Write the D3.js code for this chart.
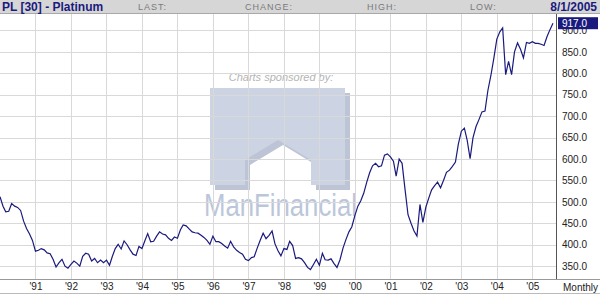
<!DOCTYPE html>
<html>
<head>
<meta charset="utf-8">
<script src="https://cdn.jsdelivr.net/npm/d3@7"></script>
<style>
  body { margin: 0; background: #fff; }
  svg { display: block; font-family: "Liberation Sans", Arial, sans-serif; }
</style>
</head>
<body>
<script>
// monthly closes, Jan 1990 .. Aug 2005
const startYear = 1990;
const prices = [
  512, 490, 477, 478, 496, 490, 487, 480, 455, 438, 425, 410,
  385, 387, 391, 388, 381, 379, 366, 348, 358, 366, 350, 345,
  354, 362, 357, 350, 373, 380, 378, 362, 368, 358, 364, 358,
  364, 352, 372, 391, 401, 390, 409, 400, 388, 378, 375, 396,
  391, 410, 426, 407, 408, 420, 430, 425, 423, 415, 410, 418,
  415, 435, 446, 444, 437, 430, 428, 427, 422, 417, 410, 401,
  420, 407, 407, 403, 397, 392, 408, 395, 387, 382, 378, 366,
  363, 370, 372, 392, 410, 427, 414, 422, 432, 402, 386, 374,
  391, 389, 408, 398, 368, 370, 367, 358, 347, 342, 354, 366,
  352, 380, 365, 364, 367, 356, 347, 365, 392, 412, 430, 442,
  468, 490, 502, 520, 545, 568, 584, 590, 582, 584, 609, 612,
  605, 595, 560, 600, 590, 528, 470, 450, 432, 420, 494, 452,
  488, 510, 528, 538, 546, 533, 550, 569, 574, 583, 593, 635,
  665, 672, 645, 601, 650, 676, 692, 710, 712, 760, 795, 835,
  880, 897, 906, 797, 828, 797, 850, 871, 856, 836, 872, 870,
  874, 870, 870, 868, 865, 886, 902, 917
];
const yearTicks = [1991, 1992, 1993, 1994, 1995, 1996, 1997, 1998, 1999, 2000, 2001, 2002, 2003, 2004, 2005];
const priceTicks = [350, 400, 450, 500, 550, 600, 650, 700, 750, 800, 850, 900];
const lastPrice = 917.0;
const title = 'PL [30] - Platinum';
const headerLabels = ['LAST:', 'CHANGE:', 'HIGH:', 'LOW:'];
const lastDate = '8/1/2005';

const width = 600;
const height = 295;
const plot = {left: 0, right: 556, top: 14, bottom: 279};
const navy = '#1a1a7e';

const data = prices.map((p, i) => ({date: new Date(startYear, i, 1), price: p}));

const svg = d3.select('body')
  .append('svg')
  .attr('width', width)
  .attr('height', height);

const x = d3.scaleTime()
  .domain([new Date(1990, 0, 1), new Date(2005, 8, 1)])
  .range([plot.left, plot.right]);

const y = d3.scaleLinear()
  .domain([320, 938.5])
  .range([plot.bottom, plot.top]);

// watermark
const wm = svg.append('g');
wm.append('text')
  .attr('x', 281).attr('y', 81)
  .attr('text-anchor', 'middle')
  .attr('font-size', 11)
  .attr('font-style', 'italic')
  .attr('fill', '#b4b4b4')
  .text('Charts sponsored by:');

const mShape = [[210, 88], [345, 88], [345, 185], [311, 185], [311, 160], [278, 140], [245, 160], [245, 185], [210, 185]];
wm.append('polygon')
  .attr('points', mShape.map(p => [p[0] + 5, p[1] + 5].join(',')).join(' '))
  .attr('fill', '#bcc4d6');
wm.append('polygon')
  .attr('points', mShape.map(p => p.join(',')).join(' '))
  .attr('fill', '#ccd3e2');

wm.append('text')
  .attr('x', 204).attr('y', 216)
  .attr('font-size', 31)
  .attr('textLength', 153)
  .attr('lengthAdjust', 'spacingAndGlyphs')
  .attr('fill', '#bcc6da')
  .text('ManFinancial');

// grid
svg.append('g')
  .selectAll('line')
  .data(yearTicks)
  .join('line')
  .attr('x1', d => Math.round(x(new Date(d, 0, 1))) + 0.5)
  .attr('x2', d => Math.round(x(new Date(d, 0, 1))) + 0.5)
  .attr('y1', plot.top)
  .attr('y2', plot.bottom)
  .attr('stroke', '#d9d9d9');

svg.append('g')
  .selectAll('line')
  .data(priceTicks)
  .join('line')
  .attr('x1', plot.left)
  .attr('x2', plot.right)
  .attr('y1', d => Math.round(y(d)) + 0.5)
  .attr('y2', d => Math.round(y(d)) + 0.5)
  .attr('stroke', '#d9d9d9');

// price line
const line = d3.line()
  .x(d => x(d.date))
  .y(d => y(d.price));

svg.append('path')
  .datum(data)
  .attr('d', line)
  .attr('fill', 'none')
  .attr('stroke', navy)
  .attr('stroke-width', 1.2);

// frame
svg.append('line')
  .attr('x1', plot.right + 0.5).attr('x2', plot.right + 0.5)
  .attr('y1', plot.top).attr('y2', plot.bottom)
  .attr('stroke', '#555');
svg.append('line')
  .attr('x1', 0).attr('x2', width)
  .attr('y1', plot.bottom + 0.5).attr('y2', plot.bottom + 0.5)
  .attr('stroke', '#999');
svg.append('line')
  .attr('x1', 0).attr('x2', width)
  .attr('y1', 293.5).attr('y2', 293.5)
  .attr('stroke', '#bbb');

// right axis
const yAxis = d3.axisRight(y)
  .tickValues(priceTicks)
  .tickSize(0)
  .tickPadding(6)
  .tickFormat(d => d.toFixed(1));

svg.append('g')
  .attr('transform', `translate(${plot.right}, 0)`)
  .call(yAxis)
  .call(g => g.select('.domain').remove())
  .call(g => g.selectAll('text')
    .attr('font-size', 10)
    .attr('font-family', '"Liberation Sans", Arial, sans-serif')
    .attr('fill', '#222'));

// last price box
svg.append('rect')
  .attr('x', plot.right + 2).attr('y', y(lastPrice) - 6)
  .attr('width', 40).attr('height', 12)
  .attr('fill', navy);
svg.append('text')
  .attr('x', plot.right + 6).attr('y', y(lastPrice) + 4)
  .attr('font-size', 10)
  .attr('fill', '#fff')
  .text(lastPrice.toFixed(1));

// bottom axis
const xAxis = d3.axisBottom(x)
  .tickValues(yearTicks.map(d => new Date(d, 0, 1)))
  .tickSize(0)
  .tickPadding(4)
  .tickFormat(d => "'" + d3.timeFormat('%y')(d));

svg.append('g')
  .attr('transform', `translate(0, ${plot.bottom})`)
  .call(xAxis)
  .call(g => g.select('.domain').remove())
  .call(g => g.selectAll('text')
    .attr('font-size', 10)
    .attr('font-family', '"Liberation Sans", Arial, sans-serif')
    .attr('fill', '#222'));

svg.append('text')
  .attr('x', 598).attr('y', 291)
  .attr('text-anchor', 'end')
  .attr('font-size', 10)
  .attr('fill', '#222')
  .text('Monthly');

// header
svg.append('rect')
  .attr('x', 0).attr('y', 0)
  .attr('width', width).attr('height', plot.top)
  .attr('fill', '#d6d6d6');
svg.append('line')
  .attr('x1', 0).attr('x2', width)
  .attr('y1', plot.top - 0.5).attr('y2', plot.top - 0.5)
  .attr('stroke', '#a8a8a8');

svg.append('text')
  .attr('x', 2).attr('y', 11)
  .attr('font-size', 12)
  .attr('font-weight', 'bold')
  .attr('fill', navy)
  .text(title);

const labelX = [138, 245, 367, 470];
svg.append('g')
  .selectAll('text')
  .data(headerLabels)
  .join('text')
  .attr('x', (d, i) => labelX[i])
  .attr('y', 10)
  .attr('font-size', 9)
  .attr('letter-spacing', 1)
  .attr('fill', '#7a7a7a')
  .text(d => d);

svg.append('text')
  .attr('x', 597).attr('y', 11)
  .attr('text-anchor', 'end')
  .attr('font-size', 12)
  .attr('font-weight', 'bold')
  .attr('fill', navy)
  .text(lastDate);
</script>
</body>
</html>
